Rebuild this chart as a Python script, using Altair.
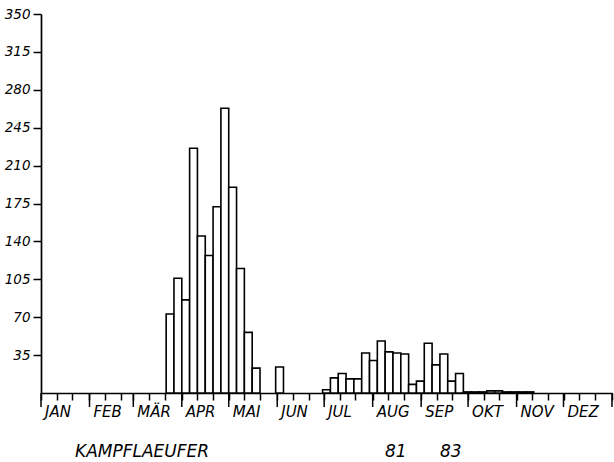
import altair as alt
import pandas as pd

# Pentad counts (5-day periods, 73 per year), starting 1 January
counts = [
    0, 0, 0, 0, 0, 0, 0, 0, 0, 0, 0, 0, 0, 0, 0, 0,          # pentads 0-15
    73, 106, 86, 226, 145, 127, 172, 263, 190, 115, 56, 23,   # 16-27
    0, 0, 24,                                                 # 28-30
    0, 0, 0, 0, 0,                                            # 31-35
    3, 14, 18, 13, 13, 37, 30, 48, 38, 37, 36, 8,             # 36-47
    11, 46, 26, 36, 11, 18,                                   # 48-53
    1, 1, 1, 2, 2, 1, 1, 1, 1,                                # 54-62
    0, 0, 0, 0, 0, 0, 0, 0, 0, 0,                             # 63-72
]

month_names = ["JAN", "FEB", "MÄR", "APR", "MAI", "JUN",
               "JUL", "AUG", "SEP", "OKT", "NOV", "DEZ"]
month_days = [31, 28, 31, 30, 31, 30, 31, 31, 30, 31, 30, 31]
y_ticks = [35, 70, 105, 140, 175, 210, 245, 280, 315, 350]

species = "KAMPFLAEUFER"
years = ["81", "83"]

# day-of-year offsets of month starts and 10-day subdivisions
month_start = [sum(month_days[:i]) for i in range(12)]
decades = [s + d for s in month_start for d in (0, 10, 20)] + [365]

bars = pd.DataFrame({
    "start": [5 * k for k in range(len(counts))],
    "end": [5 * k + 5 for k in range(len(counts))],
    "count": counts,
})
bars = bars[bars["count"] > 0]
months = pd.DataFrame({"day": month_start, "name": month_names})
long_ticks = pd.DataFrame({"day": month_start + [365]})

W, H = 571, 379
FONT = "DejaVu Sans"

xscale = alt.Scale(domain=[0, 365], nice=False, zero=False)
yscale = alt.Scale(domain=[0, 350], nice=False)

# one shared x axis: short ticks at 10-day marks, no labels
x_axis = alt.Axis(values=decades, labels=False, tickSize=7,
                  tickColor="black", tickWidth=1.5,
                  domainColor="black", domainWidth=1.7,
                  grid=False, title=None)
y_axis = alt.Axis(values=y_ticks, tickSize=8, labelPadding=3,
                  labelFont=FONT, labelFontSize=13.5,
                  labelFontStyle="italic", labelColor="black",
                  tickColor="black", tickWidth=1.5,
                  domainColor="black", domainWidth=1.7,
                  grid=False, title=None)

bar_layer = alt.Chart(bars).mark_bar(
    fill="white", stroke="black", strokeWidth=1.6
).encode(
    x=alt.X("start:Q", scale=xscale, axis=x_axis),
    x2="end:Q",
    y=alt.Y("count:Q", scale=yscale, axis=y_axis),
    y2=alt.datum(0),
)

month_ticks = alt.Chart(long_ticks).mark_rule(
    color="black", strokeWidth=1.5
).encode(
    x=alt.X("day:Q", scale=xscale, axis=x_axis),
    y=alt.value(H),
    y2=alt.value(H + 14),
)

month_labels = alt.Chart(months).mark_text(
    align="left", baseline="middle", dx=4,
    font=FONT, fontSize=15, fontStyle="italic", color="black"
).encode(
    x=alt.X("day:Q", scale=xscale, axis=x_axis),
    y=alt.value(H + 19),
    text="name:N",
)


def footer(label, px):
    return alt.Chart(pd.DataFrame({"label": [label]})).mark_text(
        align="left", baseline="middle",
        font=FONT, fontSize=17, fontStyle="italic", color="black"
    ).encode(
        x=alt.value(px),
        y=alt.value(H + 59),
        text="label:N",
    )


chart = alt.layer(
    bar_layer, month_ticks, month_labels,
    footer(species, 34), footer(years[0], 344), footer(years[1], 399),
).properties(
    width=W, height=H,
    autosize=alt.AutoSizeParams(type="none"),
    padding={"left": 41, "top": 14, "right": 2, "bottom": 69},
    background="white",
).configure_view(stroke=None)

chart.save("out.html", embed_options={"renderer": "svg", "actions": False})
